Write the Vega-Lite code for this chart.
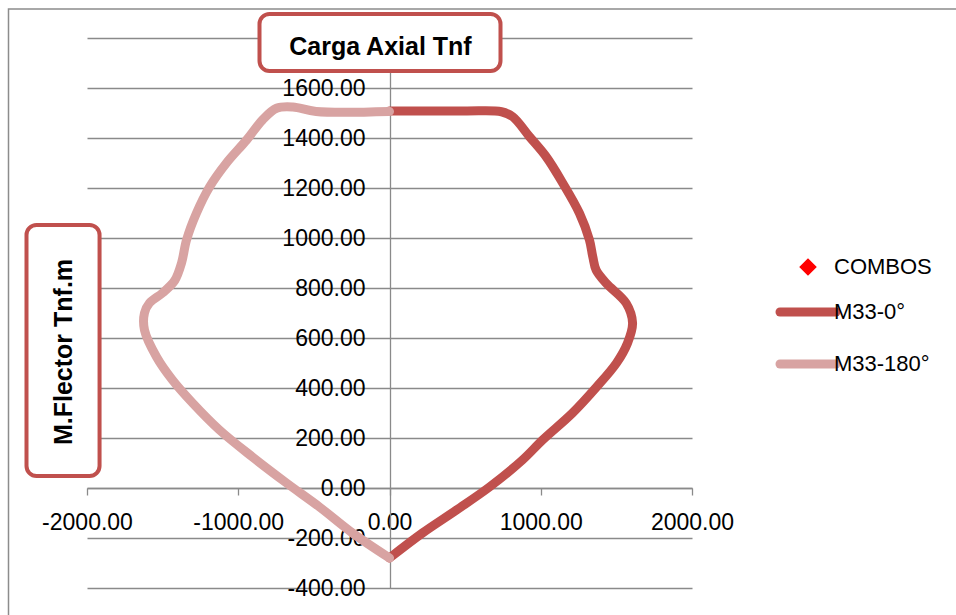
{
  "$schema": "https://vega.github.io/schema/vega-lite/v6.json",
  "width": 605,
  "height": 550,
  "autosize": {"type": "none"},
  "padding": {"left": 87, "top": 38, "right": 264, "bottom": 27},
  "background": "white",
  "config": {"view": {"stroke": null}, "font": "Liberation Sans"},
  "datasets": {
    "curves": [
      {"series": "M33-0°", "idx": 0, "M": 0, "P": -280},
      {"series": "M33-0°", "idx": 1, "M": 218, "P": -180},
      {"series": "M33-0°", "idx": 2, "M": 443, "P": -88},
      {"series": "M33-0°", "idx": 3, "M": 661, "P": 4},
      {"series": "M33-0°", "idx": 4, "M": 879, "P": 112},
      {"series": "M33-0°", "idx": 5, "M": 1012, "P": 192},
      {"series": "M33-0°", "idx": 6, "M": 1210, "P": 300},
      {"series": "M33-0°", "idx": 7, "M": 1369, "P": 404},
      {"series": "M33-0°", "idx": 8, "M": 1501, "P": 500},
      {"series": "M33-0°", "idx": 9, "M": 1574, "P": 580},
      {"series": "M33-0°", "idx": 10, "M": 1607, "P": 660},
      {"series": "M33-0°", "idx": 11, "M": 1565, "P": 739},
      {"series": "M33-0°", "idx": 12, "M": 1433, "P": 819},
      {"series": "M33-0°", "idx": 13, "M": 1366, "P": 872},
      {"series": "M33-0°", "idx": 14, "M": 1344, "P": 925},
      {"series": "M33-0°", "idx": 15, "M": 1322, "P": 992},
      {"series": "M33-0°", "idx": 16, "M": 1256, "P": 1099},
      {"series": "M33-0°", "idx": 17, "M": 1146, "P": 1219},
      {"series": "M33-0°", "idx": 18, "M": 1036, "P": 1325},
      {"series": "M33-0°", "idx": 19, "M": 926, "P": 1405},
      {"series": "M33-0°", "idx": 20, "M": 815, "P": 1485},
      {"series": "M33-0°", "idx": 21, "M": 740, "P": 1505},
      {"series": "M33-0°", "idx": 22, "M": 500, "P": 1508},
      {"series": "M33-0°", "idx": 23, "M": 0, "P": 1508},
      {"series": "M33-180°", "idx": 0, "M": 0, "P": -280},
      {"series": "M33-180°", "idx": 1, "M": -245, "P": -180},
      {"series": "M33-180°", "idx": 2, "M": -463, "P": -76},
      {"series": "M33-180°", "idx": 3, "M": -681, "P": 20},
      {"series": "M33-180°", "idx": 4, "M": -906, "P": 124},
      {"series": "M33-180°", "idx": 5, "M": -1124, "P": 232},
      {"series": "M33-180°", "idx": 6, "M": -1302, "P": 340},
      {"series": "M33-180°", "idx": 7, "M": -1435, "P": 432},
      {"series": "M33-180°", "idx": 8, "M": -1540, "P": 524},
      {"series": "M33-180°", "idx": 9, "M": -1620, "P": 632},
      {"series": "M33-180°", "idx": 10, "M": -1620, "P": 700},
      {"series": "M33-180°", "idx": 11, "M": -1587, "P": 740},
      {"series": "M33-180°", "idx": 12, "M": -1501, "P": 780},
      {"series": "M33-180°", "idx": 13, "M": -1420, "P": 830},
      {"series": "M33-180°", "idx": 14, "M": -1375, "P": 900},
      {"series": "M33-180°", "idx": 15, "M": -1342, "P": 992},
      {"series": "M33-180°", "idx": 16, "M": -1276, "P": 1100},
      {"series": "M33-180°", "idx": 17, "M": -1190, "P": 1204},
      {"series": "M33-180°", "idx": 18, "M": -1078, "P": 1300},
      {"series": "M33-180°", "idx": 19, "M": -945, "P": 1392},
      {"series": "M33-180°", "idx": 20, "M": -840, "P": 1472},
      {"series": "M33-180°", "idx": 21, "M": -747, "P": 1519},
      {"series": "M33-180°", "idx": 22, "M": -639, "P": 1524},
      {"series": "M33-180°", "idx": 23, "M": -485, "P": 1506},
      {"series": "M33-180°", "idx": 24, "M": 0, "P": 1506}
    ]
  },
  "layer": [
    {
      "data": {"values": [{}]},
      "mark": {"type": "rect", "filled": false, "stroke": "#8c8c8c", "strokeWidth": 1.5, "clip": false},
      "encoding": {
        "x": {"datum": -2519, "type": "quantitative", "title": null},
        "x2": {"datum": 4500},
        "y": {"datum": 1916, "type": "quantitative", "title": null},
        "y2": {"datum": -1500}
      }
    },
    {
      "data": {"name": "curves"},
      "mark": {"type": "line", "strokeWidth": 9, "strokeCap": "round", "strokeJoin": "round", "interpolate": "catmull-rom", "clip": false},
      "encoding": {
        "x": {
          "field": "M", "type": "quantitative", "title": null,
          "scale": {"domain": [-2000, 2000], "nice": false, "zero": false},
          "axis": {
            "values": [-2000, -1000, 0, 1000, 2000], "format": ".2f", "grid": false,
            "labelExpr": "replace(datum.label, '\u2212', '-')",
            "offset": -100, "domainColor": "#8a8a8a", "domainWidth": 1.3,
            "tickColor": "#8a8a8a", "tickSize": 7, "tickWidth": 1.3,
            "labelFont": "Liberation Sans", "labelFontSize": 23, "labelColor": "#000000",
            "labelPadding": 16, "labelFlush": false, "labelOverlap": false
          }
        },
        "y": {
          "field": "P", "type": "quantitative", "title": null,
          "scale": {"domain": [-400, 1800], "nice": false, "zero": false},
          "axis": {
            "values": [-400, -200, 0, 200, 400, 600, 800, 1000, 1200, 1400, 1600, 1800], "format": ".2f",
            "labelExpr": "datum.value === 1800 ? '' : replace(datum.label, '\u2212', '-')",
            "grid": true, "gridColor": "#8a8a8a", "gridWidth": 1.3, "gridOpacity": 1,
            "offset": -303, "domainColor": "#8a8a8a", "domainWidth": 1.3,
            "ticks": false, "tickSize": 0,
            "labelFont": "Liberation Sans", "labelFontSize": 23, "labelColor": "#000000",
            "labelPadding": 25, "labelFlush": false, "labelOverlap": false
          }
        },
        "order": {"field": "idx", "type": "quantitative"},
        "color": {
          "field": "series", "type": "nominal",
          "scale": {"domain": ["COMBOS", "M33-0°", "M33-180°"], "range": ["#FF0000", "#C0504D", "#D8A3A2"]},
          "legend": {
            "title": null, "orient": "none", "legendX": 710, "legendY": 218, "padding": 0,
            "labelFont": "Liberation Sans", "labelFontSize": 22, "labelColor": "#000000",
            "labelOffset": 15, "rowPadding": 16,
            "symbolType": "stroke", "symbolSize": 3136, "symbolStrokeWidth": 9,
            "encode": {
              "symbols": {
                "update": {
                  "shape": {"signal": "datum.value === 'COMBOS' ? 'diamond' : 'stroke'"},
                  "size": {"signal": "datum.value === 'COMBOS' ? 240 : 3136"},
                  "strokeWidth": {"signal": "datum.value === 'COMBOS' ? 1.5 : 9"},
                  "fill": {"signal": "datum.value === 'COMBOS' ? '#FF0000' : 'transparent'"},
                  "stroke": {"signal": "datum.value === 'COMBOS' ? '#A8403D' : scale('color', datum.value)"},
                  "strokeCap": {"value": "round"},
                  "opacity": {"value": 1}
                }
              }
            }
          }
        }
      }
    },
    {
      "data": {"values": [{}]},
      "mark": {"type": "rect", "fill": "white", "stroke": "#C0504D", "strokeWidth": 4, "cornerRadius": 10, "clip": false},
      "encoding": {
        "x": {"datum": -859.5, "type": "quantitative", "title": null},
        "x2": {"datum": 733.9},
        "y": {"datum": 1896, "type": "quantitative", "title": null},
        "y2": {"datum": 1668}
      }
    },
    {
      "data": {"values": [{}]},
      "mark": {"type": "rect", "fill": "white", "stroke": "#C0504D", "strokeWidth": 4, "cornerRadius": 10, "clip": false},
      "encoding": {
        "x": {"datum": -2400, "type": "quantitative", "title": null},
        "x2": {"datum": -1917},
        "y": {"datum": 1052, "type": "quantitative", "title": null},
        "y2": {"datum": 48}
      }
    },
    {
      "data": {"values": [{}]},
      "mark": {"type": "text", "text": "Carga Axial Tnf", "font": "Liberation Sans", "fontWeight": "bold", "fontSize": 25, "align": "center", "baseline": "alphabetic", "color": "#000000", "clip": false},
      "encoding": {
        "x": {"datum": -60, "type": "quantitative", "title": null},
        "y": {"datum": 1732, "type": "quantitative", "title": null}
      }
    },
    {
      "data": {"values": [{}]},
      "mark": {"type": "text", "text": "M.Flector Tnf.m", "font": "Liberation Sans", "fontWeight": "bold", "fontSize": 25, "align": "center", "baseline": "middle", "angle": 270, "color": "#000000", "clip": false},
      "encoding": {
        "x": {"datum": -2155, "type": "quantitative", "title": null},
        "y": {"datum": 544, "type": "quantitative", "title": null}
      }
    }
  ]
}
